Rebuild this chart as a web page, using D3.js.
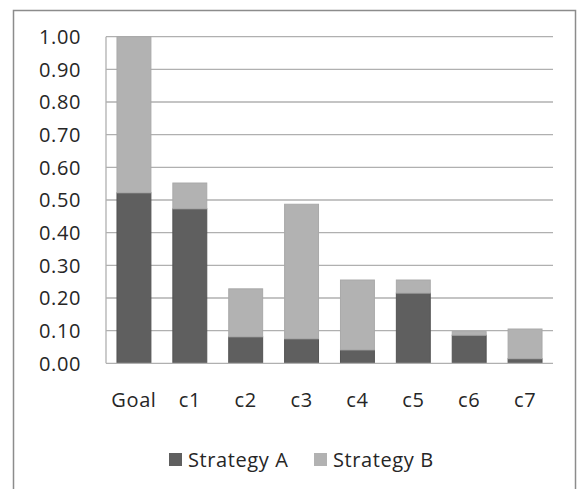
<!DOCTYPE html>
<html>
<head>
<meta charset="utf-8">
<script src="https://cdn.jsdelivr.net/npm/d3@7"></script>
<style>
  html, body { margin: 0; padding: 0; background: #fff; }
  svg text { font-family: "Open Sans", "Liberation Sans", sans-serif; fill: #262626; letter-spacing: 0.6px; }
</style>
</head>
<body>
<svg id="chart" width="577" height="489"></svg>
<script>
const categories = ["Goal", "c1", "c2", "c3", "c4", "c5", "c6", "c7"];
const strategyA = [0.522, 0.473, 0.081, 0.075, 0.041, 0.215, 0.086, 0.014];
const strategyB = [0.478, 0.079, 0.147, 0.412, 0.214, 0.040, 0.011, 0.091];
const yTicks = [0, 0.1, 0.2, 0.3, 0.4, 0.5, 0.6, 0.7, 0.8, 0.9, 1.0];
const seriesNames = ["Strategy A", "Strategy B"];
const seriesColors = ["#5f5f5f", "#b2b2b2"];
const seriesStroke = ["#545454", "#a9a9a9"];

(function () {
const svg = d3.select("#chart");
const plotL = 106, plotR = 553, plotT = 36.7, plotB = 363.3;

// outer chart frame
svg.append("rect")
    .attr("x", 13.5).attr("y", 10.5)
    .attr("width", 562).attr("height", 500)
    .attr("fill", "none").attr("stroke", "#8c8c8c").attr("stroke-width", 1.5);

const x = d3.scaleBand().domain(categories).range([plotL, plotR]).paddingInner(0.375).paddingOuter(0.1875);
const y = d3.scaleLinear().domain([0, 1]).range([plotB, plotT]);

// gridlines
svg.append("g").selectAll("line")
    .data(yTicks.filter(d => d > 0))
    .join("line")
    .attr("x1", plotL).attr("x2", plotR)
    .attr("y1", d => y(d)).attr("y2", d => y(d))
    .attr("stroke", "#b0b0b0").attr("stroke-width", 1.3);

// stacked bars
const rows = categories.map((c, i) => ({ cat: c, A: strategyA[i], B: strategyB[i] }));
const stack = d3.stack().keys(["A", "B"])(rows);

svg.append("g").selectAll("g")
    .data(stack)
    .join("g")
    .attr("fill", (d, i) => seriesColors[i])
    .attr("stroke", (d, i) => seriesStroke[i])
    .selectAll("rect")
    .data(d => d)
    .join("rect")
    .attr("x", d => x(d.data.cat) + 0.5)
    .attr("width", x.bandwidth() - 1)
    .attr("y", d => y(d[1]))
    .attr("height", d => y(d[0]) - y(d[1]))
    .attr("stroke-width", 1);

// axes lines
svg.append("line")
    .attr("x1", plotL).attr("x2", plotL).attr("y1", plotT).attr("y2", plotB)
    .attr("stroke", "#b0b0b0").attr("stroke-width", 1.3);
svg.append("line")
    .attr("x1", plotL).attr("x2", plotR).attr("y1", plotB).attr("y2", plotB)
    .attr("stroke", "#b0b0b0").attr("stroke-width", 1.3);

// y tick labels
svg.append("g").selectAll("text")
    .data(yTicks)
    .join("text")
    .attr("x", 81).attr("y", d => y(d))
    .attr("dy", "0.36em")
    .attr("text-anchor", "end")
    .attr("font-size", "20px")
    .text(d => d3.format(".2f")(d));

// x labels
svg.append("g").selectAll("text")
    .data(categories)
    .join("text")
    .attr("x", d => x(d) + x.bandwidth() / 2)
    .attr("y", 407)
    .attr("text-anchor", "middle")
    .attr("font-size", "20px")
    .text(d => d);

// legend
const legendX = [169, 314];
const lg = svg.append("g").selectAll("g")
    .data(seriesNames)
    .join("g")
    .attr("transform", (d, i) => `translate(${legendX[i]},453)`);
lg.append("rect")
    .attr("width", 13).attr("height", 13)
    .attr("fill", (d, i) => seriesColors[i]);
lg.append("text")
    .attr("x", 19).attr("y", 13.5)
    .attr("font-size", "20px")
    .text(d => d);
})();
</script>
</body>
</html>
